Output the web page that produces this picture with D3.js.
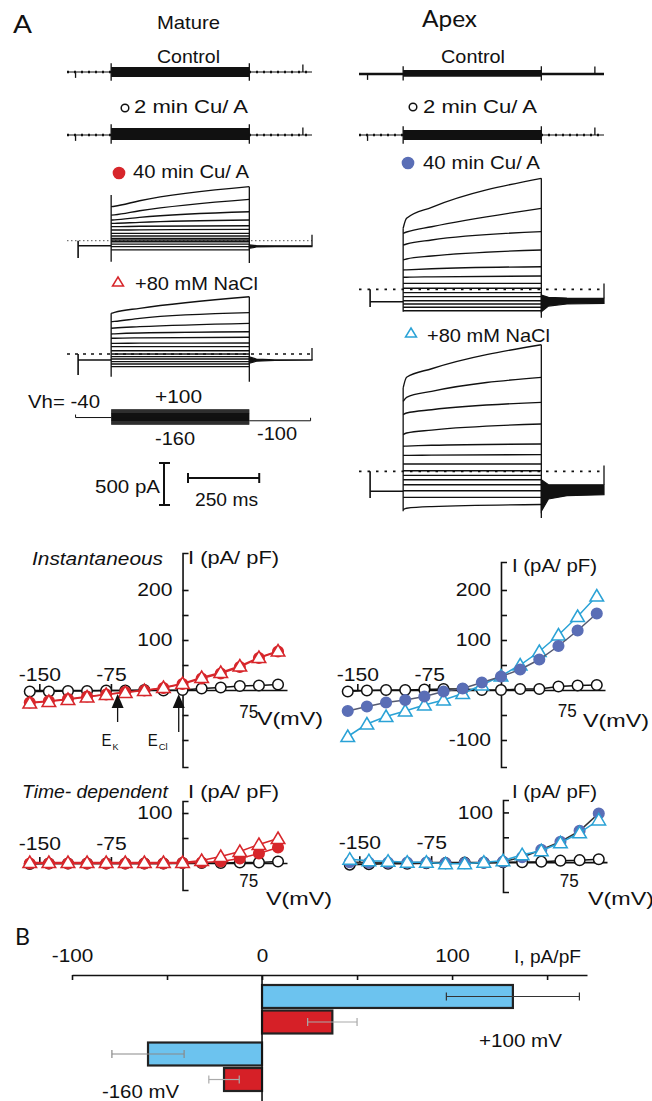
<!DOCTYPE html>
<html>
<head>
<meta charset="utf-8">
<script src="https://cdn.jsdelivr.net/npm/d3@7"></script>
<style>
  body { margin: 0; background: #fff; }
  svg { display: block; font-family: "Liberation Sans", Arial, sans-serif; }
</style>
</head>
<body>
<svg id="fig" width="652" height="1101"></svg>
<script>
"use strict";

// ---------- voltage steps (mV), shared by traces and I-V curves ----------
var stepV = [-160, -140, -120, -100, -80, -60, -40, -20, 0, 20, 40, 60, 80, 100];

// ---------- protocol timing (ms): start, step on, step off, end ----------
var protoT = [0, 155, 640, 860];
var holdV = -40, postV = -100;
var tSample = [0, 12, 100, 485];   // sample times inside the step
var tailT = [0, 25, 90, 220];      // sample times after the step

// ---------- currents (pA), Mature, 40 min Cu/A ----------
var mat40I0   = [-110, -70, -40, -12, 8, 28, 56, 88, 127, 167, 206, 246, 305, 405];
var mat40I12  = [-110, -70, -40, -12, 8, 28, 56, 88, 127, 167, 207, 248, 308, 410];
var mat40I100 = [-110, -70, -40, -12, 8, 28, 56, 88, 129, 172, 219, 278, 357, 476];
var mat40IEnd = [-110, -70, -40, -12, 8, 28, 56, 88, 134, 178, 246, 345, 492, 643];
var mat40TailHi = [-50, -58, -60, -60];
var mat40TailLo = [-90, -75, -70, -70];

// ---------- currents (pA), Mature, +80 mM NaCl ----------
var matNaI0   = [-151, -119, -91, -60, -32, 0, 39, 87, 127, 187, 238, 306, 385, 484];
var matNaI12  = [-151, -119, -91, -60, -32, 0, 39, 87, 127, 188, 240, 310, 388, 496];
var matNaI100 = [-151, -119, -91, -60, -32, 0, 39, 87, 129, 192, 250, 325, 425, 544];
var matNaIEnd = [-151, -119, -91, -60, -32, 0, 39, 87, 131, 199, 265, 365, 492, 682];
var matNaTailHi = [-35, -60, -70, -70];
var matNaTailLo = [-110, -85, -75, -72];

// ---------- currents (pA), Apex, 40 min Cu/A ----------
var apx40I0   = [-255, -214, -175, -136, -88, -40, 12, 71, 143, 230, 349, 527, 667, 727];
var apx40I12  = [-255, -214, -175, -136, -88, -40, 12, 71, 144, 232, 361, 539, 682, 845];
var apx40I100 = [-255, -214, -175, -136, -88, -40, 12, 71, 148, 245, 396, 587, 745, 976];
var apx40IEnd = [-255, -214, -175, -136, -88, -40, 12, 71, 158, 269, 468, 686, 964, 1321];
var apx40TailHi = [-68, -95, -105, -107];
var apx40TailLo = [-267, -200, -175, -167];

// ---------- currents (pA), Apex, +80 mM NaCl ----------
var apxNaI0   = [-455, -310, -231, -160, -100, -48, 7, 87, 190, 298, 436, 674, 833, 992];
var apxNaI12  = [-440, -310, -231, -160, -100, -48, 7, 87, 190, 300, 456, 694, 881, 1119];
var apxNaI100 = [-420, -310, -231, -160, -100, -48, 7, 87, 193, 310, 491, 733, 952, 1221];
var apxNaIEnd = [-395, -310, -231, -160, -100, -48, 7, 87, 198, 325, 563, 821, 1119, 1507];
var apxNaTailHi = [-100, -160, -160, -160];
var apxNaTailLo = [-476, -330, -290, -278];

// families: [mat40, matNa, apx40, apxNa]
var famHold   = [-60, -71, -148, -238];
var famStart  = [39, 39, 39, 39];
var famSpike  = [-206, -250, -210, -317];
var capOnTop  = [545, 484, 727, 992];
var capOnLow  = [-250, -270, -267, -476];
var capOffLow = [-265, -330, -340, -556];

// control / 2 min bands: [matCtrl, mat2min, apxCtrl, apx2min]
var bandHi = [60, 83, 48, 60];
var bandLo = [-60, -60, -32, -60];
var artT = [30, 828];
var artI = [-70, 90];

// ---------- I-V data (pA/pF) ----------
var matInst2  = [-3, -3, -2, -2, -1, -1, 0, -1, 0, 3, 5, 8, 9, 11];
var matInst40 = [-25, -22, -18, -13, -9, -4, -1, 4, 12, 23, 33, 46, 64, 77];
var matInstNa = [-26, -23, -19, -14, -9, -5, -1, 5, 13, 25, 35, 48, 65, 78];
var apxInst2  = [-3, -1, 0, 0, 1, 2, 2, 0, 0, 2, 2, 7, 9, 10];
var apxInst40 = [-42, -33, -25, -20, -13, -3, 3, 15, 27, 41, 61, 88, 119, 153];
var apxInstNa = [-93, -68, -53, -42, -30, -20, -7, 10, 28, 50, 77, 110, 147, 188];
var matTd2  = [-2, -1, -1, -1, -1, -1, -1, -1, 0, 0, 0, 1, 1, 3];
var matTd40 = [-1, -1, -1, -1, -1, -1, -1, -1, 0, 1, 3, 9, 19, 31];
var matTdNa = [1, 1, 1, 1, 1, 1, 1, 1, 1, 5, 13, 23, 37, 49];
var apxTd2  = [-5, -4, -3, -3, -2, -2, -1, -1, 0, 0, 1, 3, 4, 6];
var apxTd40 = [0, -1, -1, -1, -1, -2, -2, -1, 1, 10, 25, 41, 63, 98];
var apxTdNa = [6, 3, 2, 0, 0, -3, -3, 0, 3, 15, 23, 39, 59, 85];
var eRevV = [-68, -4];
var eRevSub = ["K", "Cl"];

// ---------- B: mean current (pA/pF) ----------
var barVolt = ["+100 mV", "-160 mV"];
var apexMean = [132, -60], apexSem = [35, 19];
var matureMean = [37, -20], matureSem = [13, 8];

var red = "#d7262b", blue = "#5a6eb6", cyan = "#2aa2d6";
var barBlue = "#6cc3ef", barRed = "#d62027", ink = "#111";

var svg = d3.select("#fig");

function label(txt, x, y, size, len, opts) {
  opts = opts || {};
  var t = svg.append("text").attr("x", x).attr("y", y)
    .attr("font-size", size).attr("fill", ink).text(txt);
  if (len) t.attr("textLength", len).attr("lengthAdjust", "spacingAndGlyphs");
  if (opts.italic) t.attr("font-style", "italic");
  if (opts.family) t.attr("font-family", opts.family);
  return t;
}
function stretch(sel, f) {
  sel.each(function() {
    var w = this.getComputedTextLength();
    if (w > 0) d3.select(this).attr("textLength", w * f).attr("lengthAdjust", "spacingAndGlyphs");
  });
}
var triPath = "M0,-6.5L6.8,5L-6.8,5Z";

// =================== A: current traces ===================
var tOn = protoT[1], tOff = protoT[2], tEnd = protoT[3];
var xL = d3.scaleLinear().domain([0, tEnd]).range([67, 312]);
var xR = d3.scaleLinear().domain([0, tEnd]).range([359, 604]);
function pAScale(zero) { return d3.scaleLinear().domain([0, 500]).range([zero, zero - 42]); }

function vline(g, x, y1, y2, w) {
  g.append("line").attr("x1", x).attr("x2", x).attr("y1", y1).attr("y2", y2)
    .attr("stroke", ink).attr("stroke-width", w || 1.3);
}

function drawBand(i, x, zero, dash) {
  var y = pAScale(zero), g = svg.append("g");
  g.append("line").attr("x1", x(0)).attr("x2", x(tEnd)).attr("y1", y(0)).attr("y2", y(0))
    .attr("stroke", ink).attr("stroke-width", 1.2);
  g.append("line").attr("x1", x(0)).attr("x2", x(tEnd)).attr("y1", y(0)).attr("y2", y(0))
    .attr("stroke", ink).attr("stroke-width", 2.4).attr("stroke-dasharray", dash);
  var area = d3.area().x(function(d) { return x(d); })
    .y0(y(bandLo[i])).y1(y(bandHi[i]));
  g.append("path").datum([tOn, tOff]).attr("d", area).attr("fill", ink);
  [tOn, tOff].forEach(function(t) { vline(g, x(t), y(bandHi[i] + 45), y(bandLo[i] - 45)); });
  artT.forEach(function(t, k) { vline(g, x(t), y(0), y(artI[k])); });
}

function drawFamily(i, x, zero, sweeps, tailHi, tailLo, dot) {
  var y = pAScale(zero);
  var g = svg.append("g").attr("fill", "none").attr("stroke", ink);
  g.append("line").attr("x1", x(0)).attr("x2", x(tEnd)).attr("y1", y(0)).attr("y2", y(0))
    .attr("stroke-width", dot.w).attr("stroke-dasharray", dot.dash).attr("stroke", dot.c);
  // holding segment with the pre-pulse artefact
  g.append("path").attr("stroke-width", 1.6).attr("d", d3.line()([
    [x(famStart[i]), y(0)], [x(famStart[i]), y(famSpike[i])],
    [x(famStart[i]), y(famHold[i])], [x(tOn), y(famHold[i])]]));
  var line = d3.line().x(function(d) { return x(tOn + d[0]); })
    .y(function(d) { return y(d[1]); }).curve(d3.curveMonotoneX);
  stepV.forEach(function(v, s) {
    var pts = tSample.map(function(t, k) { return [t, sweeps[k][s]]; });
    g.append("path").attr("d", line(pts)).attr("stroke-width", 1.35);
  });
  vline(g, x(tOn), y(capOnTop[i]), y(capOnLow[i]));
  vline(g, x(tOff), y(d3.max(sweeps[3])), y(capOffLow[i]));
  var tail = d3.area().x(function(d) { return x(tOff + d); })
    .y0(function(d, k) { return y(tailLo[k]); })
    .y1(function(d, k) { return y(tailHi[k]); });
  g.append("path").datum(tailT).attr("d", tail).attr("fill", ink).attr("stroke-width", 1.2);
  vline(g, x(tEnd), y(tailHi[3]), y(70));
}

drawBand(0, xL, 72, "2,5");
drawBand(1, xL, 135, "2,5");
drawBand(2, xR, 74, "1,0");
drawBand(3, xR, 135, "2,5");
drawFamily(0, xL, 240.7, [mat40I0, mat40I12, mat40I100, mat40IEnd], mat40TailHi, mat40TailLo,
  { dash: "1.5,2.5", w: 1, c: "#555" });
drawFamily(1, xL, 354, [matNaI0, matNaI12, matNaI100, matNaIEnd], matNaTailHi, matNaTailLo,
  { dash: "3,5", w: 1.5, c: ink });
drawFamily(2, xR, 289.3, [apx40I0, apx40I12, apx40I100, apx40IEnd], apx40TailHi, apx40TailLo,
  { dash: "2.5,6", w: 1.8, c: ink });
drawFamily(3, xR, 471.3, [apxNaI0, apxNaI12, apxNaI100, apxNaIEnd], apxNaTailHi, apxNaTailLo,
  { dash: "2.5,6", w: 1.8, c: ink });

// voltage protocol
var yV = d3.scaleLinear().domain([-160, 100]).range([424, 410]);
var proto = svg.append("g").attr("stroke", ink).attr("fill", "none");
proto.append("path").attr("stroke-width", 1).attr("d", d3.line()([
  [xL(30), yV(holdV) - 3], [xL(30), yV(holdV)], [xL(tOn), yV(holdV)]]));
proto.append("path").attr("stroke-width", 1).attr("d", d3.line()([
  [xL(tOff), yV(postV)], [xL(tEnd - 5), yV(postV)], [xL(tEnd - 5), yV(postV) - 3]]));
stepV.forEach(function(v) {
  proto.append("line").attr("x1", xL(tOn)).attr("x2", xL(tOff))
    .attr("y1", yV(v)).attr("y2", yV(v)).attr("stroke-width", 1.4);
});

// scale bars
var sb = svg.append("g").attr("stroke", ink).attr("stroke-width", 2);
var ySb = pAScale(505);
sb.append("line").attr("x1", 164).attr("x2", 164).attr("y1", ySb(0)).attr("y2", ySb(500));
[0, 500].forEach(function(v) {
  sb.append("line").attr("x1", 159).attr("x2", 170).attr("y1", ySb(v)).attr("y2", ySb(v));
});
var xSb = d3.scaleLinear().domain([0, 250]).range([188, 188 + xL(250) - xL(0)]);
sb.append("line").attr("x1", xSb(0)).attr("x2", xSb(250)).attr("y1", 478).attr("y2", 478);
[0, 250].forEach(function(t) {
  sb.append("line").attr("x1", xSb(t)).attr("x2", xSb(t)).attr("y1", 473).attr("y2", 483);
});

// titles and condition labels
label("A", 13, 33, 25, 19, { family: "Lato" });
label("Mature", 157, 29, 19, 63);
label("Apex", 422, 27, 24, 55, { family: "Lato" });
label("Control", 157, 63, 19, 63);
label("Control", 441, 63, 19, 64);
label("2 min Cu/ A", 134, 113, 19, 114);
label("2 min Cu/ A", 423, 113, 19, 114);
label("40 min Cu/ A", 133, 178, 19, 116);
label("40 min Cu/ A", 423, 169, 19, 117);
label("+80 mM NaCl", 135, 290, 19, 123);
label("+80 mM NaCl", 427, 342, 19, 123);
label("Vh= -40", 28, 408, 19, 72);
label("+100", 155, 403, 19, 47);
label("-160", 155, 445, 19, 40);
label("-100", 257, 440, 19, 40);
label("500 pA", 95, 493, 19, 65);
label("250 ms", 195, 506, 19, 63);

var lg = svg.append("g").attr("stroke-width", 1.5);
lg.append("circle").attr("cx", 125).attr("cy", 108).attr("r", 3.8).attr("fill", "#fff").attr("stroke", ink);
lg.append("circle").attr("cx", 413).attr("cy", 107).attr("r", 3.8).attr("fill", "#fff").attr("stroke", ink);
lg.append("circle").attr("cx", 119).attr("cy", 173).attr("r", 5.6).attr("fill", red).attr("stroke", red);
lg.append("circle").attr("cx", 408).attr("cy", 163).attr("r", 5.6).attr("fill", blue).attr("stroke", blue);
lg.append("path").attr("d", "M0,-5L5.5,4L-5.5,4Z").attr("transform", "translate(118,282)")
  .attr("fill", "#fff").attr("stroke", red);
lg.append("path").attr("d", "M0,-5L5.5,4L-5.5,4Z").attr("transform", "translate(411,333)")
  .attr("fill", "#fff").attr("stroke", cyan);

// =================== A: I-V curves ===================
function drawIV(p) {
  var g = svg.append("g");
  var x = d3.scaleLinear().domain(p.xDom).range(p.xRange);
  var y = d3.scaleLinear().domain(p.yDom).range(p.yRange);
  var x0 = x(0), y0 = y(0);
  var ax = g.append("g").attr("transform", "translate(0," + y0 + ")")
    .call(d3.axisTop(x).tickValues([-150, -75]).tickSizeInner(6).tickSizeOuter(0)
      .tickPadding(p.xPad).tickFormat(function(d) { return String(d); }));
  var ay = g.append("g").attr("transform", "translate(" + x0 + ",0)")
    .call(d3.axisLeft(y).tickValues(p.yTicks).tickSizeInner(-6).tickSizeOuter(-6).tickPadding(10)
      .tickFormat(function(d) { return p.yLabels.indexOf(d) >= 0 ? String(d) : ""; }));
  [ax, ay].forEach(function(a) {
    a.attr("font-size", 18.5).attr("font-family", null);
    a.selectAll("path,line").attr("stroke", ink).attr("stroke-width", 1.6);
    a.selectAll("text").attr("fill", ink);
    stretch(a.selectAll("text"), 1.14);
  });
  label("75", x(75) - 15, y0 + p.d75, 18.5, 19);
  label("V(mV)", p.vLab[0], p.vLab[1], 19, 66);
  label("I (pA/ pF)", p.iLab[0], p.iLab[1], 19, p.iLab[2]);
  if (p.title) label(p.title[0], p.title[1], p.title[2], 19, p.title[3], { italic: true });

  p.series.forEach(function(s) {
    var pts = stepV.map(function(v, i) { return [x(v), y(s.vals[i])]; });
    g.append("path").attr("d", d3.line()(pts)).attr("fill", "none")
      .attr("stroke", s.line).attr("stroke-width", 1.5);
    var m = g.append("g").attr("stroke", s.stroke).attr("fill", s.fill).attr("stroke-width", 1.5);
    if (s.shape === "tri") {
      m.selectAll("path").data(pts).enter().append("path").attr("d", triPath)
        .attr("transform", function(d) { return "translate(" + d[0] + "," + d[1] + ")"; });
    } else {
      m.selectAll("circle").data(pts).enter().append("circle")
        .attr("cx", function(d) { return d[0]; }).attr("cy", function(d) { return d[1]; })
        .attr("r", 5.3);
    }
  });

  if (p.arrows) {
    eRevV.forEach(function(v, k) {
      var ex = x(v);
      g.append("line").attr("x1", ex).attr("x2", ex).attr("y1", y0 + 14).attr("y2", y0 + (k ? 42 : 32))
        .attr("stroke", ink).attr("stroke-width", 1.3);
      g.append("path").attr("d", "M0,0L6,14L-6,14Z").attr("fill", ink)
        .attr("transform", "translate(" + ex + "," + (y0 + 4) + ")");
      var dx = k ? -31 : -16;
      label("E", ex + dx, y0 + 56, 17, 10);
      label(eRevSub[k], ex + dx + 11, y0 + 60, 9.5, k ? 9 : 6);
    });
  }
}

var open = { shape: "circle", stroke: ink, fill: "#fff", line: ink };
drawIV({
  xDom: [-165, 109.4], xRange: [25, 287], yDom: [-154, 274], yRange: [767, 553],
  yTicks: [-100, -50, 50, 100, 150, 200], yLabels: [100, 200], xPad: 3, d75: 28,
  vLab: [257, 725], iLab: [188, 564, 91], title: ["Instantaneous", 32, 565, 131], arrows: true,
  series: [Object.assign({ vals: matInst2 }, open),
    { vals: matInst40, shape: "circle", stroke: red, fill: red, line: red },
    { vals: matInstNa, shape: "tri", stroke: red, fill: "#fff", line: red }]
});
drawIV({
  xDom: [-166, 108.6], xRange: [342, 605], yDom: [-154, 256], yRange: [767, 562],
  yTicks: [-100, -50, 50, 100, 150, 200], yLabels: [-100, 100, 200], xPad: 3, d75: 27,
  vLab: [583, 727], iLab: [512, 572, 85],
  series: [Object.assign({ vals: apxInst2 }, open),
    { vals: apxInstNa, shape: "tri", stroke: cyan, fill: "#fff", line: cyan },
    { vals: apxInst40, shape: "circle", stroke: blue, fill: blue, line: "#555a70" }]
});
drawIV({
  xDom: [-165, 109.4], xRange: [25, 287], yDom: [-54, 124], yRange: [890, 801],
  yTicks: [50, 100], yLabels: [100], xPad: 7, d75: 24,
  vLab: [266, 905], iLab: [188, 798, 91], title: ["Time- dependent", 22, 798, 146],
  series: [Object.assign({ vals: matTd2 }, open),
    { vals: matTd40, shape: "circle", stroke: red, fill: red, line: red },
    { vals: matTdNa, shape: "tri", stroke: red, fill: "#fff", line: red }]
});
drawIV({
  xDom: [-166, 108.6], xRange: [344, 607], yDom: [-60, 125], yRange: [892, 800],
  yTicks: [50, 100], yLabels: [100], xPad: 7, d75: 25,
  vLab: [588, 905], iLab: [512, 798, 85],
  series: [Object.assign({ vals: apxTd2 }, open),
    { vals: apxTd40, shape: "circle", stroke: blue, fill: blue, line: "#333" },
    { vals: apxTdNa, shape: "tri", stroke: cyan, fill: "#fff", line: cyan }]
});

// =================== B: bar chart ===================
var bx = d3.scaleLinear().domain([-100, 171]).range([72, 587]);
var by = d3.scaleBand().domain(barVolt).range([985, 1091]).paddingInner(0.157);
var bIn = d3.scaleBand().domain(["apex", "mature"]).range([0, by.bandwidth()]).paddingInner(0.1);

var bAx = svg.append("g").attr("transform", "translate(0,975)")
  .call(d3.axisTop(bx).tickValues([-100, -50, 0, 50, 100, 150]).tickSizeInner(-5).tickSizeOuter(0)
    .tickPadding(13).tickFormat(function(d) { return [-100, 0, 100].indexOf(d) >= 0 ? String(d) : ""; }));
bAx.attr("font-size", 18.5).attr("font-family", null);
bAx.selectAll("path,line").attr("stroke", ink).attr("stroke-width", 1.6);
bAx.selectAll("text").attr("fill", ink);
stretch(bAx.selectAll("text"), 1.12);

var bars = [];
barVolt.forEach(function(v, i) {
  bars.push({ v: v, c: "apex", m: apexMean[i], e: apexSem[i], fill: barBlue, err: i ? "#8a8a8a" : "#333" });
  bars.push({ v: v, c: "mature", m: matureMean[i], e: matureSem[i], fill: barRed, err: "#aaa" });
});
var bg = svg.append("g");
bg.selectAll("rect").data(bars).enter().append("rect")
  .attr("x", function(d) { return bx(Math.min(0, d.m)); })
  .attr("width", function(d) { return Math.abs(bx(d.m) - bx(0)); })
  .attr("y", function(d) { return by(d.v) + bIn(d.c); })
  .attr("height", bIn.bandwidth())
  .attr("fill", function(d) { return d.fill; })
  .attr("stroke", "#222").attr("stroke-width", 2.2);
bars.forEach(function(d) {
  var cy = by(d.v) + bIn(d.c) + bIn.bandwidth() / 2;
  var eg = bg.append("g").attr("stroke", d.err).attr("stroke-width", 1.2);
  eg.append("line").attr("x1", bx(d.m - d.e)).attr("x2", bx(d.m + d.e)).attr("y1", cy).attr("y2", cy);
  [d.m - d.e, d.m + d.e].forEach(function(v) {
    eg.append("line").attr("x1", bx(v)).attr("x2", bx(v)).attr("y1", cy - 4).attr("y2", cy + 4);
  });
});
svg.append("line").attr("x1", bx(0)).attr("x2", bx(0)).attr("y1", 975).attr("y2", 1101)
  .attr("stroke", ink).attr("stroke-width", 1.6);

label("B", 15, 945, 23, 15, { family: "Lato" });
label("I, pA/pF", 514, 963, 19, 67);
label("+100 mV", 479, 1047, 19, 83);
label("-160 mV", 102, 1098, 19, 77);
</script>
</body>
</html>
